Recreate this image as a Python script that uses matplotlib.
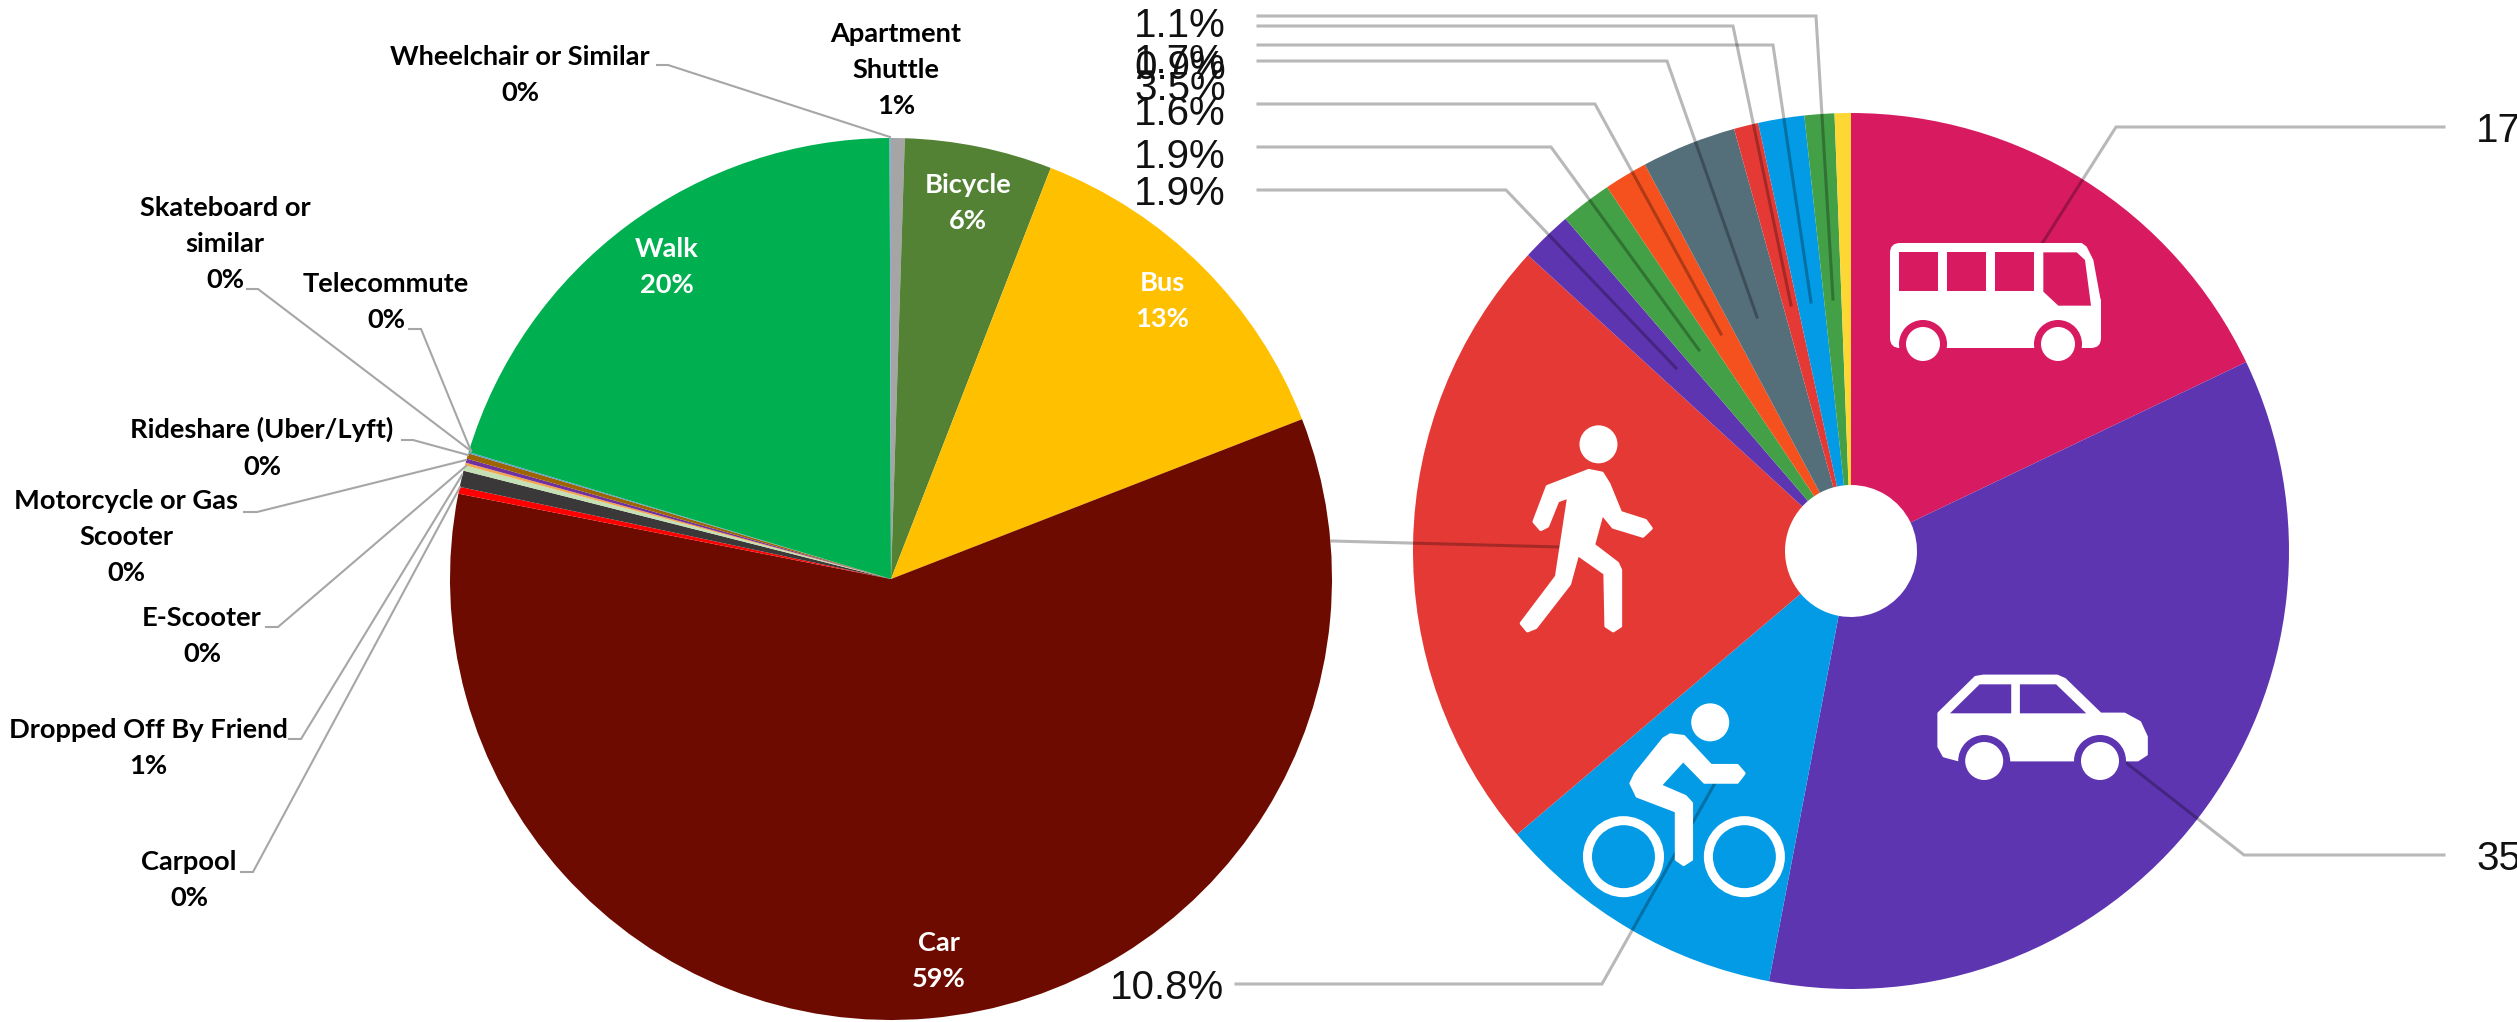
import matplotlib
matplotlib.use("Agg")
import matplotlib.pyplot as plt
from matplotlib.patches import Polygon, Circle, FancyBboxPatch

W, H = 2517, 1022

# ---------- data: left pie (survey, clockwise from top, alphabetical) ----------
left_names = ["Apartment\nShuttle", "Bicycle", "Bus", "Car", "Carpool", "Dropped Off By Friend",
              "E-Scooter", "Motorcycle or Gas\nScooter", "Rideshare (Uber/Lyft)",
              "Skateboard or\nsimilar", "Telecommute", "Walk", "Wheelchair or Similar"]
left_values = [0.5, 5.4, 13.2, 59.0, 0.25, 0.6, 0.2, 0.1, 0.15, 0.2, 0.05, 20.3, 0.05]
left_pct = ["1%", "6%", "13%", "59%", "0%", "1%", "0%", "0%", "0%", "0%", "0%", "20%", "0%"]
left_colors = ["#A5A5A5", "#548235", "#FFC000", "#6E0B00", "#FF0000", "#3A3838", "#C5E0B4",
               "#F4A64E", "#7030A0", "#9C6500", "#5B9BD5", "#00B050", "#8FAADC"]

# ---------- data: right pie (clockwise from top) ----------
right_values = [17.9, 35.1, 10.8, 23.0, 1.9, 1.9, 1.6, 3.5, 0.9, 1.7, 1.1, 0.6]
right_colors = ["#D81B60", "#5E35B1", "#039BE5", "#E53935", "#5E35B1", "#43A047",
                "#F4511E", "#546E7A", "#E53935", "#039BE5", "#43A047", "#FDD835"]
right_labels = ["1.1%", "1.7%", "0.9%", "3.5%", "1.6%", "1.9%", "1.9%"]
right_label_y = [22, 58, 64, 85, 110, 153, 190]

# ---------- layout (pixels) ----------
LC = (891, 579); LR = 441
RC = (1851, 551); RR = 438; HOLE = 66

left_label_pos = {  # block centre
    "Apartment\nShuttle": (896, 70), "Wheelchair or Similar": (520, 75),
    "Skateboard or\nsimilar": (225, 244), "Telecommute": (386, 302),
    "Rideshare (Uber/Lyft)": (262, 448), "Motorcycle or Gas\nScooter": (126, 537),
    "E-Scooter": (202, 636), "Dropped Off By Friend": (148, 748), "Carpool": (189, 880),
    "Bicycle": (968, 203), "Bus": (1162, 301), "Walk": (667, 267), "Car": (939, 961),
}
inside = {"Bicycle", "Bus", "Walk", "Car"}

left_leaders = [
    [(657, 65), (668, 65), (890, 137)],
    [(247, 289), (258, 289), (471, 451)],
    [(409, 329), (421, 329), (471, 451)],
    [(402, 440), (413, 440), (468, 455)],
    [(244, 512), (257, 512), (466, 460)],
    [(266, 627), (278, 627), (466, 466)],
    [(289, 739), (301, 739), (462, 475)],
    [(241, 872), (253, 872), (460, 487)],
]
right_leaders = [
    [(1258, 16), (1816, 16), (1833, 299)],
    [(1258, 26), (1733, 26), (1791, 305)],
    [(1258, 45), (1773, 45), (1811, 302)],
    [(1258, 61), (1667, 61), (1757, 317)],
    [(1258, 104), (1595, 104), (1721, 334)],
    [(1258, 147), (1551, 147), (1699, 350)],
    [(1258, 190), (1506, 190), (1676, 368)],
    [(2444, 127), (2116, 127), (2012, 291)],
    [(2444, 855), (2244, 855), (2051, 704)],
    [(1236, 984), (1602, 984), (1715, 783)],
    [(1332, 541), (1560, 547)],
]

fig = plt.figure(figsize=(W / 100, H / 100), dpi=100, facecolor="white")


def pie_axes(c, r, z):
    ax = fig.add_axes([(c[0] - r) / W, 1 - (c[1] + r) / H, 2 * r / W, 2 * r / H], zorder=z)
    return ax


def overlay(z):
    ax = fig.add_axes([0, 0, 1, 1], zorder=z)
    ax.set_xlim(0, W)
    ax.set_ylim(H, 0)
    ax.axis("off")
    ax.patch.set_alpha(0)
    return ax


# right pie
ax_r = pie_axes(RC, RR, 1)
ax_r.pie(right_values, colors=right_colors, startangle=90, counterclock=False, radius=1,
         wedgeprops=dict(width=1 - HOLE / RR, linewidth=0))
ax_r.set_xlim(-1, 1); ax_r.set_ylim(-1, 1)

ov_r = overlay(2)
for pts in right_leaders:
    ov_r.plot(*zip(*pts), color="black", alpha=0.28, lw=2.2, solid_joinstyle="miter", zorder=2)
RFS = 29
for s, y in zip(right_labels, right_label_y):
    ov_r.text(1134, y, s, family="Liberation Sans", fontsize=RFS, color="#111111",
              ha="left", va="center_baseline", zorder=5)
ov_r.text(1110, 984, "10.8%", family="Liberation Sans", fontsize=RFS, color="#111111",
          ha="left", va="center_baseline", zorder=5)
ov_r.text(2476, 127, "17", family="Liberation Sans", fontsize=RFS, color="#111111",
          ha="left", va="center_baseline", zorder=5, clip_on=True)
ov_r.text(2476, 855, "35", family="Liberation Sans", fontsize=RFS, color="#111111",
          ha="left", va="center_baseline", zorder=5, clip_on=True)


def z3(pts):
    return [(1450 + x / 1.96, 400 + y / 3) for x, y in pts]


def z8(pts):
    return [(1860 + x / 3, 100 + y / 3) for x, y in pts]


def poly(pts, color="white", z=3, lw=0):
    ov_r.add_patch(Polygon(pts, closed=True, fc=color, ec=color, lw=lw, joinstyle="round", zorder=z))


def disc(c, r, color="white", z=3):
    ov_r.add_patch(Circle(c, r, fc=color, ec="none", zorder=z))


# bus icon
pink = right_colors[0]
ov_r.add_patch(FancyBboxPatch((1898, 251), 195, 89, boxstyle="round,pad=8,rounding_size=10",
                              fc="white", ec="none", zorder=3))
for x0, x1 in [(118, 234), (262, 378), (405, 522)]:
    poly(z8([(x0, 457), (x1, 457), (x1, 573), (x0, 573)]), pink, 4)
poly(z8([(550, 457), (650, 457), (675, 480), (693, 617), (595, 617), (550, 575)]), pink, 4)
ov_r.add_patch(Polygon(z8([(660, 425), (730, 425), (730, 560), (722, 600), (700, 480), (680, 440)]),
                       fc=pink, ec="none", zorder=3.5))
for cx in (1923, 2058):
    disc((cx, 344), 24, pink, 4)
    disc((cx, 344), 17, "white", 5)
ov_r.add_patch(Polygon(z8([(100, 746), (720, 746), (720, 800), (100, 800)]), fc=pink, ec="none", zorder=3.5))

# car icon
purple = right_colors[1]
poly(z3([(958, 940), (1030, 832), (1045, 828), (1190, 828), (1205, 838), (1275, 942), (1322, 942),
         (1352, 967), (1365, 1010), (1365, 1063), (1348, 1080), (997, 1080), (968, 1068), (958, 1040)]), lw=2)
poly(z3([(980, 940), (1038, 853), (1100, 853), (1100, 940)]), purple, 4)
poly(z3([(1117, 940), (1117, 853), (1188, 853), (1247, 940)]), purple, 4)
for p in z3([(1047, 1083), (1274, 1083)]):
    disc(p, 26, purple, 4)
    disc(p, 19, "white", 5)

# walker icon
disc(z3([(291, 133)])[0], 19)
poly(z3([(272, 212), (298, 220), (311, 252), (334, 338), (383, 362), (394, 385), (378, 408), (320, 381),
         (298, 340), (281, 435), (328, 490), (334, 510), (334, 678), (320, 692), (306, 678), (304, 520),
         (250, 462), (234, 552), (168, 682), (152, 692), (140, 670), (209, 530), (233, 290), (211, 302),
         (191, 378), (178, 388), (165, 365), (191, 260)]), lw=2.5)

# cyclist icon
disc(z3([(510, 967)])[0], 19)
poly(z3([(432, 1005), (458, 1010), (511, 1097), (563, 1097), (576, 1120), (563, 1146), (499, 1146),
         (457, 1080), (411, 1157), (461, 1190), (473, 1210), (473, 1378), (458, 1393), (444, 1378),
         (444, 1233), (367, 1188), (355, 1150), (364, 1122), (419, 1017)]), lw=2.5)
for p in z3([(340, 1370), (577, 1370)]):
    ov_r.add_patch(Circle(p, 36, fc="none", ec="white", lw=6.5, zorder=3))

# left pie
ax_l = pie_axes(LC, LR, 3)
ax_l.pie(left_values, colors=left_colors, startangle=90, counterclock=False, radius=1,
         wedgeprops=dict(linewidth=0))
ax_l.set_xlim(-1, 1); ax_l.set_ylim(-1, 1)

ov_l = overlay(4)
for pts in left_leaders:
    ov_l.plot(*zip(*pts), color="#A6A6A6", lw=1.5, solid_joinstyle="miter")
for name, pct in zip(left_names, left_pct):
    x, y = left_label_pos[name]
    ov_l.text(x, y, f"{name}\n{pct}", family="Lato", fontweight="bold", fontsize=19.6,
              color="white" if name in inside else "black", ha="center", va="center",
              multialignment="center", linespacing=1.62)

fig.savefig("out.png", dpi=100)
